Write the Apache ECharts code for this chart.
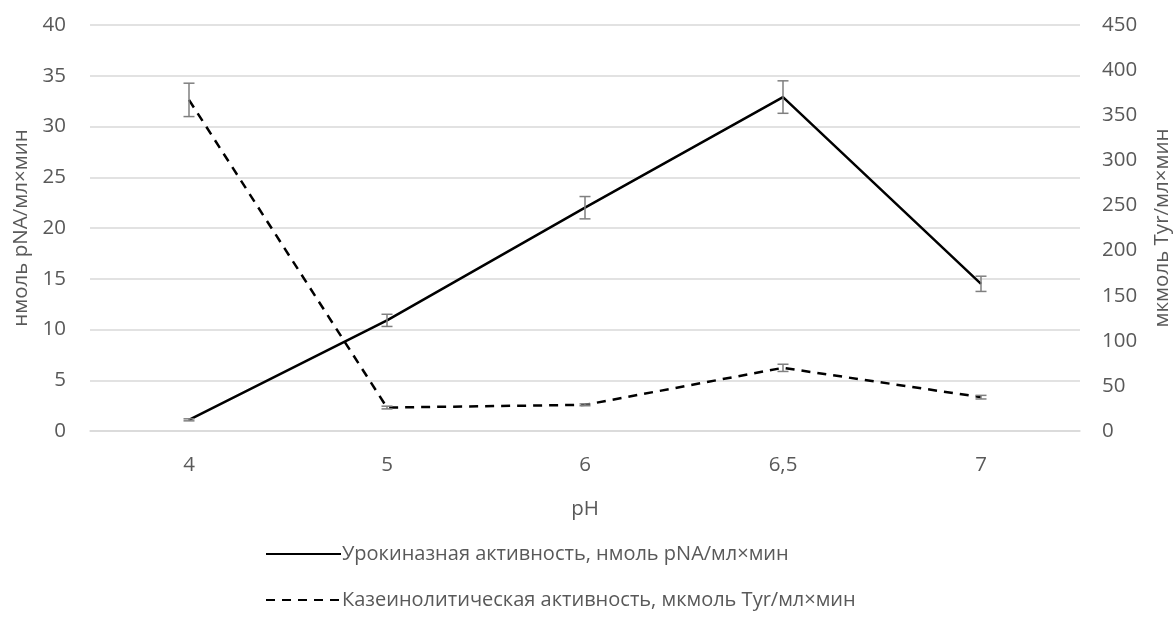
<!DOCTYPE html>
<html>
<head>
<meta charset="utf-8">
<script src="https://cdn.jsdelivr.net/npm/echarts@6/dist/echarts.min.js"></script>
<style>
  html, body { margin: 0; padding: 0; background: #ffffff; }
  #chart { width: 1176px; height: 617px; }
</style>
</head>
<body>
<div id="chart"></div>
<script>
// pH values on the x axis
const categories = ['4', '5', '6', '6,5', '7'];

// Urokinase activity, nmol pNA/ml×min (left axis)
const urokinase = [1.1, 10.9, 22.0, 32.9, 14.5];
const urokinaseErr = [0.1, 0.6, 1.1, 1.6, 0.75];

// Caseinolytic activity, µmol Tyr/ml×min (right axis)
const casein = [367, 26, 29, 70, 37.5];
const caseinErr = [18.5, 1.5, 1, 4, 2];

// Axis tick settings
const leftMax = 40, leftStep = 5;
const rightMax = 450, rightStep = 50;

const FONT = 'Open Sans';
const TXT = '#595959';
const FS = 20.5;

function errData(vals, errs) {
  return vals.map((v, i) => [i, v - errs[i], v + errs[i]]);
}

function errRender(params, api) {
  const lo = api.coord([api.value(0), api.value(1)]);
  const hi = api.coord([api.value(0), api.value(2)]);
  const half = 5.5;
  const style = { stroke: '#7f7f7f', lineWidth: 1.5, fill: null };
  return {
    type: 'group',
    children: [
      { type: 'line', shape: { x1: lo[0], y1: lo[1], x2: hi[0], y2: hi[1] }, style },
      { type: 'line', shape: { x1: lo[0] - half, y1: lo[1], x2: lo[0] + half, y2: lo[1] }, style },
      { type: 'line', shape: { x1: hi[0] - half, y1: hi[1], x2: hi[0] + half, y2: hi[1] }, style }
    ]
  };
}

const chart = echarts.init(document.getElementById('chart'), null, { renderer: 'canvas' });

chart.setOption({
  backgroundColor: '#ffffff',
  animation: false,
  textStyle: { fontFamily: FONT, color: TXT },
  grid: { left: 90, right: 96, top: 25, bottom: 186, containLabel: false, outerBoundsMode: 'none' },
  xAxis: {
    type: 'category',
    data: categories,
    boundaryGap: true,
    name: 'pH',
    nameLocation: 'middle',
    nameGap: 68,
    nameTextStyle: { fontFamily: FONT, fontSize: FS, color: TXT },
    axisLine: { show: true, lineStyle: { color: '#d9d9d9', width: 1.5 } },
    axisTick: { show: false },
    axisLabel: { fontFamily: FONT, fontSize: FS, color: TXT, margin: 24 }
  },
  yAxis: [
    {
      type: 'value',
      min: 0, max: leftMax, interval: leftStep,
      name: 'нмоль pNA/мл×мин',
      nameLocation: 'middle',
      nameRotate: 90,
      nameGap: 56,
      nameTextStyle: { fontFamily: FONT, fontSize: FS, color: TXT },
      axisLine: { show: false },
      axisTick: { show: false },
      axisLabel: { fontFamily: FONT, fontSize: FS, color: TXT, margin: 24 },
      splitLine: { lineStyle: { color: '#d9d9d9', width: 1.5 } }
    },
    {
      type: 'value',
      min: 0, max: rightMax, interval: rightStep,
      name: 'мкмоль Tyr/мл×мин',
      nameLocation: 'middle',
      nameRotate: 90,
      nameGap: 72,
      nameTextStyle: { fontFamily: FONT, fontSize: FS, color: TXT },
      axisLine: { show: false },
      axisTick: { show: false },
      axisLabel: { fontFamily: FONT, fontSize: FS, color: TXT, margin: 22 },
      splitLine: { show: false }
    }
  ],
  legend: {
    orient: 'vertical',
    left: 265,
    top: 544,
    padding: 0,
    itemWidth: 75,
    itemHeight: 14,
    itemGap: 26,
    itemStyle: { opacity: 0 },
    textStyle: { fontFamily: FONT, fontSize: 20, color: TXT, padding: [0, 0, 0, -4] },
    data: [
      'Урокиназная активность, нмоль pNA/мл×мин',
      'Казеинолитическая активность, мкмоль Tyr/мл×мин'
    ]
  },
  series: [
    {
      name: 'Урокиназная активность, нмоль pNA/мл×мин',
      type: 'line',
      yAxisIndex: 0,
      data: urokinase,
      symbol: 'none',
      lineStyle: { color: '#000000', width: 2.5 },
      itemStyle: { color: '#000000' },
      z: 3
    },
    {
      name: 'Казеинолитическая активность, мкмоль Tyr/мл×мин',
      type: 'line',
      yAxisIndex: 1,
      data: casein,
      symbol: 'none',
      lineStyle: { color: '#000000', width: 2.5, type: [9, 7] },
      itemStyle: { color: '#000000' },
      z: 3
    },
    {
      type: 'custom',
      yAxisIndex: 0,
      data: errData(urokinase, urokinaseErr),
      renderItem: errRender,
      encode: { x: 0, y: [1, 2] },
      silent: true,
      z: 4
    },
    {
      type: 'custom',
      yAxisIndex: 1,
      data: errData(casein, caseinErr),
      renderItem: errRender,
      encode: { x: 0, y: [1, 2] },
      silent: true,
      z: 4
    }
  ]
});
</script>
</body>
</html>
